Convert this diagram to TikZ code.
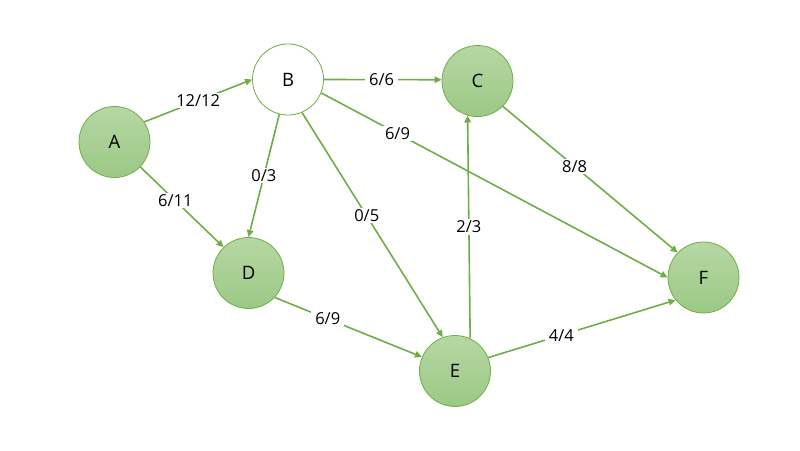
\documentclass[tikz,border=0pt]{standalone}
\usepackage{fontspec}
\setmainfont{Open Sans}
\usetikzlibrary{arrows.meta}
\definecolor{lg}{HTML}{70AD47}
\definecolor{nodetop}{HTML}{B6D7A3}
\definecolor{nodebot}{HTML}{9BC985}
\begin{document}
\begin{tikzpicture}[x=1pt,y=-1pt,
  vert/.style={circle,draw=lg,line width=0.8pt,minimum size=71pt,inner sep=0pt,
    top color=nodetop,bottom color=nodebot,font=\fontsize{18.5}{20}\selectfont},
  wvert/.style={circle,draw=lg,line width=0.8pt,minimum size=71pt,inner sep=0pt,
    fill=white,font=\fontsize{18.5}{20}\selectfont},
  flow/.style={draw=lg,line width=1.6pt,-{Triangle[length=7pt,width=6.5pt]}},
  lab/.style={fill=white,inner xsep=4pt,inner ysep=1.5pt,text=black,
    font=\fontsize{16.5}{18}\selectfont}]
\useasboundingbox (0,0) rectangle (800,450);
\node[vert]  (A) at (114.5,142) {A};
\node[wvert] (B) at (288,79.5) {B};
\node[vert]  (C) at (477.5,81) {C};
\node[vert]  (D) at (248.5,273) {D};
\node[vert]  (E) at (455,371) {E};
\node[vert]  (F) at (703.5,277.5) {F};
\draw[flow] (A.34)   -- node[lab,pos=0.5]  {12/12} (B.180);
\draw[flow] (A.-44)  -- node[lab,pos=0.42] {6/11}  (D.134);
\draw[flow] (B.-104) -- node[lab,pos=0.5]  {0/3}   (D.90);
\draw[flow] (B.-67)  -- node[lab,pos=0.46] {0/5}   (E.110);
\draw[flow] (B.0)    -- node[lab,pos=0.49] {6/6}   (C.178);
\draw[flow] (B.-22)  -- node[lab,pos=0.22] {6/9}   (F.180);
\draw[flow] (C.-45)  -- node[lab,pos=0.41] {8/8}   (F.136);
\draw[flow] (E.65)   -- node[lab,pos=0.5]  {2/3}   (C.-106);
\draw[flow] (D.-43)  -- node[lab,pos=0.36] {6/9}   (E.157);
\draw[flow] (E.22)   -- node[lab,pos=0.39] {4/4}   (F.-141);
\end{tikzpicture}
\end{document}
